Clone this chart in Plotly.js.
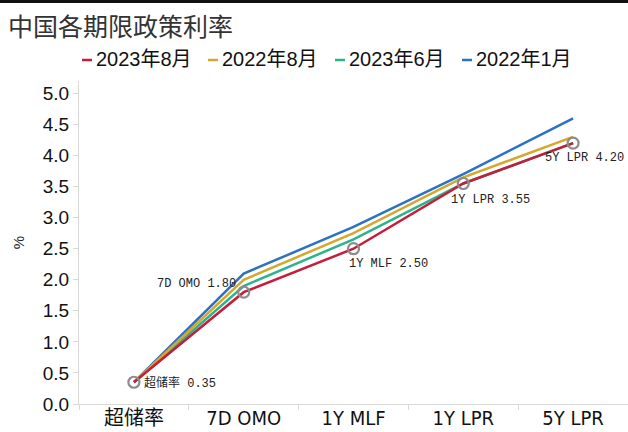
<!DOCTYPE html>
<html>
<head>
<meta charset="utf-8">
<script src="https://cdn.plot.ly/plotly-3.0.1.min.js"></script>
<style>
  html, body { margin: 0; padding: 0; background: #fff; }
  #wrap { position: relative; width: 628px; height: 432px; }
  #topbar { position: absolute; left: 0; top: 0; width: 628px; height: 3px; background: #111; z-index: 5; }
  #chart { width: 628px; height: 432px; }
</style>
</head>
<body>
<div id="wrap">
  <div id="topbar"></div>
  <div id="chart"></div>
</div>
<script>
// Policy rate tenors
const categories = ['超储率', '7D OMO', '1Y MLF', '1Y LPR', '5Y LPR'];

// Rates (%) at each date
const rates_2023_08 = [0.35, 1.80, 2.50, 3.55, 4.20];
const rates_2022_08 = [0.35, 2.00, 2.75, 3.65, 4.30];
const rates_2023_06 = [0.35, 1.90, 2.65, 3.55, 4.20];
const rates_2022_01 = [0.35, 2.10, 2.85, 3.70, 4.60];

const seriesNames = ['2023年8月', '2022年8月', '2023年6月', '2022年1月'];
const seriesColors = ['#C41E3A', '#D6A72E', '#2CB28D', '#2B71C5'];

// Labels on the latest curve
const pointLabels = ['超储率 0.35', '7D OMO 1.80', '1Y MLF 2.50', '1Y LPR 3.55', '5Y LPR 4.20'];

const seriesData = [rates_2023_08, rates_2022_08, rates_2023_06, rates_2022_01];

// plot-area geometry used to place the legend row in paper units
const M = { l: 79, r: 0, t: 81, b: 28 };
const PW = 628 - M.l - M.r, PH = 432 - M.t - M.b;
const px = v => (v - M.l) / PW;
const py = v => (432 - M.b - v) / PH;

// draw oldest first so the latest curve sits on top
const traces = [];
for (let i = seriesData.length - 1; i >= 0; i--) {
  traces.push({
    type: 'scatter', mode: 'lines',
    x: categories, y: seriesData[i],
    name: seriesNames[i],
    line: { color: seriesColors[i], width: 2.5 },
    showlegend: false, hoverinfo: 'skip'
  });
}
// hollow gray rings on the latest curve
traces.push({
  type: 'scatter', mode: 'markers',
  x: categories, y: rates_2023_08,
  marker: { symbol: 'circle-open', size: 11, color: '#8c8c8c', line: { width: 2.2, color: '#8c8c8c' } },
  showlegend: false, hoverinfo: 'skip'
});

const labelFont = { family: 'Liberation Mono, Noto Sans CJK SC, monospace', size: 12, color: '#222' };
const labelPlacement = [
  { xanchor: 'left',  xshift: 8,   yshift: -1 },
  { xanchor: 'right', xshift: -6,  yshift: 8 },
  { xanchor: 'left',  xshift: -7,  yshift: -15 },
  { xanchor: 'left',  xshift: -14, yshift: -17 },
  { xanchor: 'left',  xshift: -30, yshift: -15 }
];
const annotations = categories.map((c, i) => Object.assign({
  x: c, y: rates_2023_08[i], xref: 'x', yref: 'y',
  text: pointLabels[i], showarrow: false, yanchor: 'middle',
  font: labelFont
}, labelPlacement[i]));

// legend row: short coloured dash followed by the series name
const legendX = [82, 208, 335, 462];
const legendY = 60;
const shapes = [];
seriesNames.forEach((n, i) => {
  shapes.push({
    type: 'line', xref: 'paper', yref: 'paper',
    x0: px(legendX[i]), x1: px(legendX[i] + 10),
    y0: py(legendY), y1: py(legendY),
    line: { color: seriesColors[i], width: 2.5 }
  });
  annotations.push({
    xref: 'paper', yref: 'paper',
    x: px(legendX[i] + 12), y: py(legendY - 1),
    xanchor: 'left', yanchor: 'middle', showarrow: false,
    text: n,
    font: { family: 'Liberation Sans, Noto Sans CJK SC, sans-serif', size: 20, color: '#111' }
  });
});

const layout = {
  width: 628, height: 432,
  margin: M,
  paper_bgcolor: '#fff', plot_bgcolor: '#fff',
  title: {
    text: '中国各期限政策利率',
    x: 8 / 628, xanchor: 'left', xref: 'container',
    y: 1 - 27 / 432, yanchor: 'middle', yref: 'container',
    font: { family: 'Noto Sans CJK SC, sans-serif', size: 25, color: '#333' }
  },
  xaxis: {
    type: 'category', range: [-0.5, 4.5],
    showline: true, linecolor: '#d9d9d9', linewidth: 1,
    ticks: 'outside', tickson: 'boundaries', ticklen: 5, tickcolor: '#d9d9d9',
    ticklabelstandoff: -4,
    showgrid: false, zeroline: false,
    tickfont: { family: 'Liberation Sans Narrow, DejaVu Sans Condensed, Noto Sans CJK SC, sans-serif', size: 20, color: '#111' }
  },
  yaxis: {
    range: [0, 5.2], tickvals: [0, 0.5, 1, 1.5, 2, 2.5, 3, 3.5, 4, 4.5, 5],
    ticktext: ['0.0', '0.5', '1.0', '1.5', '2.0', '2.5', '3.0', '3.5', '4.0', '4.5', '5.0'],
    showline: true, linecolor: '#d9d9d9', linewidth: 1,
    ticks: 'outside', ticklen: 5, tickcolor: '#d9d9d9',
    showgrid: false, zeroline: false,
    tickfont: { family: 'Liberation Sans, Arial, sans-serif', size: 19, color: '#111' },
    title: { text: '%', standoff: 14, font: { family: 'Liberation Sans, sans-serif', size: 15, color: '#222' } }
  },
  shapes: shapes,
  annotations: annotations,
  showlegend: false
};

Plotly.newPlot('chart', traces, layout, { displayModeBar: false, staticPlot: true });
</script>
</body>
</html>
